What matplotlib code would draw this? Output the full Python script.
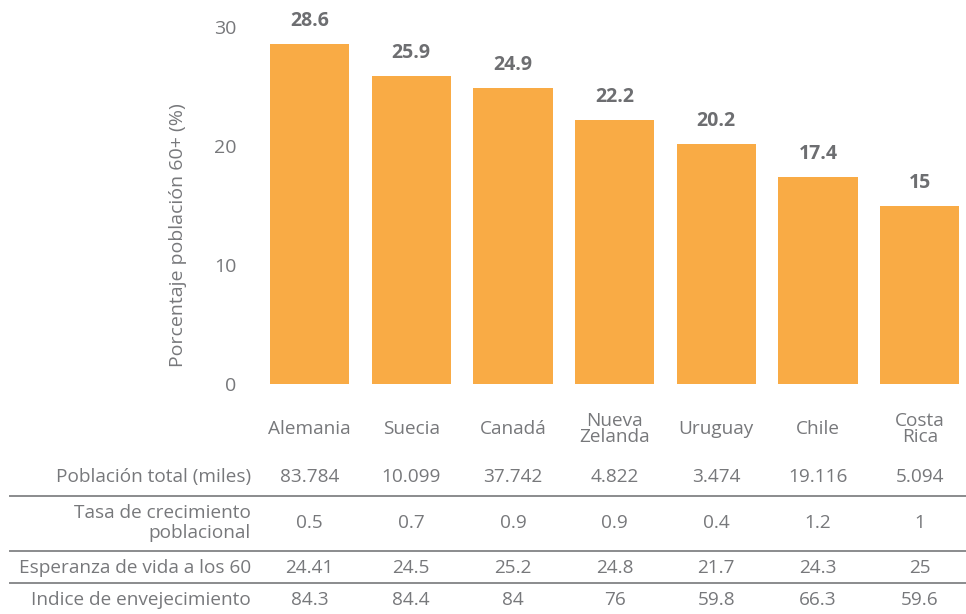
import matplotlib.pyplot as plt
import matplotlib.transforms as mtransforms

paises = ["Alemania", "Suecia", "Canadá", "Nueva\nZelanda", "Uruguay", "Chile", "Costa\nRica"]
pct_60 = [28.6, 25.9, 24.9, 22.2, 20.2, 17.4, 15]

filas = ["Población total (miles)", "Tasa de crecimiento\npoblacional",
         "Esperanza de vida a los 60", "Indice de envejecimiento"]
poblacion = ["83.784", "10.099", "37.742", "4.822", "3.474", "19.116", "5.094"]
crecimiento = ["0.5", "0.7", "0.9", "0.9", "0.4", "1.2", "1"]
esperanza = ["24.41", "24.5", "25.2", "24.8", "21.7", "24.3", "25"]
envejecimiento = ["84.3", "84.4", "84", "76", "59.8", "66.3", "59.6"]
tabla = [poblacion, crecimiento, esperanza, envejecimiento]

naranja = "#F9AB45"
gris = "#77787B"
gris_osc = "#6D6E71"
plt.rcParams["font.family"] = ["Open Sans", "DejaVu Sans"]
fs = 13.7

W, H = 966, 614
fig = plt.figure(figsize=(W / 100, H / 100), dpi=100)

def fy(p):
    # pixel row -> figure fraction
    return 1 - p / H

ax = fig.add_axes([250 / W, fy(384), 716 / W, (384 - 27) / H])
x = list(range(len(paises)))
ax.bar(x, pct_60, width=0.78, color=naranja)
ax.set_xlim(-0.585, 6.455)
ax.set_ylim(0, 30)
ax.set_yticks([0, 10, 20, 30])
ax.set_xticks([])
ax.tick_params(axis="y", length=0, pad=10, labelsize=14, labelcolor=gris)
for s in ax.spines.values():
    s.set_visible(False)

for xi, v in zip(x, pct_60):
    ax.annotate(f"{v:g}", (xi, v), xytext=(0, 9), textcoords="offset points",
                ha="center", va="bottom", fontsize=14, fontweight="bold", color=gris_osc)

fig.text(178 / W, fy(235), "Porcentaje población 60+ (%)", rotation=90,
         ha="center", va="center", fontsize=14, color=gris)

tr = mtransforms.blended_transform_factory(ax.transData, fig.transFigure)
for xi, p in zip(x, paises):
    ax.text(xi, fy(429), p, transform=tr, ha="center", va="center",
            fontsize=fs, color=gris, linespacing=0.92)

filas_y = [477, 523, 568, 600]
for yy, nombre, vals in zip(filas_y, filas, tabla):
    fig.text(251 / W, fy(yy), nombre, ha="right", va="center", fontsize=fs,
             color=gris, linespacing=1.15, multialignment="right")
    for xi, v in zip(x, vals):
        ax.text(xi, fy(yy), v, transform=tr, ha="center", va="center",
                fontsize=fs, color=gris)

for yy in [496, 551, 583]:
    fig.add_artist(plt.Line2D([10 / W, 1], [fy(yy), fy(yy)], color="#8A8B8D", lw=1.4))

fig.savefig("out.png", dpi=100)
